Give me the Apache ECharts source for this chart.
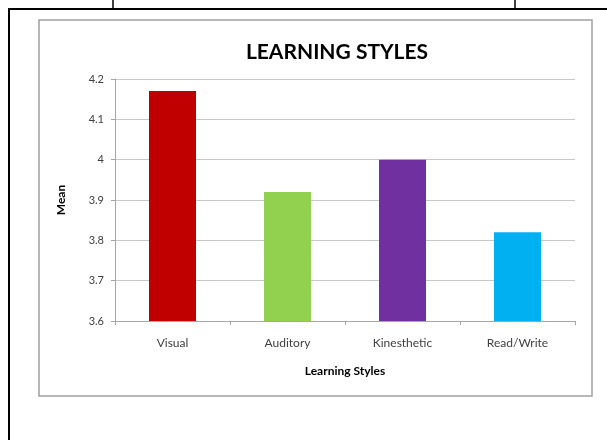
<!DOCTYPE html>
<html>
<head>
<meta charset="utf-8">
<script src="https://cdn.jsdelivr.net/npm/echarts@6/dist/echarts.min.js"></script>
<style>
html,body{margin:0;padding:0;background:#fff;}
#c{width:607px;height:440px;}
</style>
</head>
<body>
<div id="c"></div>
<script>
const categories = ['Visual', 'Auditory', 'Kinesthetic', 'Read/Write'];
const meanValues = [4.17, 3.92, 4.0, 3.82];
const barColors = ['#C00000', '#92D050', '#7030A0', '#00B0F0'];
const yTickLabels = ['3.6', '3.7', '3.8', '3.9', '4', '4.1', '4.2'];

const FONT = 'Lato, "Open Sans", sans-serif';
const chart = echarts.init(document.getElementById('c'), null, {renderer: 'canvas'});
chart.setOption({
  animation: false,
  backgroundColor: '#fff',
  title: {
    text: 'LEARNING STYLES',
    left: 332, top: 37, textAlign: 'center',
    textStyle: {fontFamily: FONT, fontWeight: 'bold', fontSize: 21, color: '#000'}
  },
  grid: {left: 115, top: 79, width: 460, height: 242, containLabel: false},
  xAxis: {
    type: 'category',
    data: categories,
    name: 'Learning Styles',
    nameLocation: 'middle',
    nameGap: 44,
    nameTextStyle: {fontFamily: FONT, fontWeight: 'bold', fontSize: 12, color: '#000'},
    axisLine: {lineStyle: {color: '#a6a6a6', width: 1}},
    axisTick: {show: true, alignWithLabel: false, length: 4, lineStyle: {color: '#a6a6a6'}},
    axisLabel: {fontFamily: FONT, fontSize: 12, color: '#404040', margin: 16}
  },
  yAxis: {
    type: 'value',
    min: 3.6, max: 4.2, interval: 0.1,
    name: 'Mean',
    nameLocation: 'middle',
    nameGap: 48,
    nameRotate: 90,
    nameTextStyle: {fontFamily: FONT, fontWeight: 'bold', fontSize: 12, color: '#000'},
    axisLine: {show: true, lineStyle: {color: '#a6a6a6', width: 1}},
    axisTick: {show: true, length: 4, inside: false, lineStyle: {color: '#a6a6a6'}},
    splitLine: {show: true, lineStyle: {color: '#c8c8c8', width: 1}},
    axisLabel: {
      fontFamily: FONT, fontSize: 11, color: '#404040', margin: 11,
      formatter: function (v) {
        const i = Math.round((v - 3.6) / 0.1);
        return yTickLabels[i] !== undefined ? yTickLabels[i] : '';
      }
    }
  },
  series: [{
    type: 'bar',
    data: meanValues.map((v, i) => ({value: v, itemStyle: {color: barColors[i]}})),
    barWidth: 47
  }],
  graphic: [
    {type: 'rect', shape: {x: 39, y: 20, width: 553, height: 376}, style: {fill: 'none', stroke: '#a0a0a0', lineWidth: 1.5}, silent: true, z: -1},
    {type: 'line', shape: {x1: 8, y1: 9, x2: 607, y2: 9}, style: {stroke: '#000', lineWidth: 2}, silent: true},
    {type: 'line', shape: {x1: 9, y1: 8, x2: 9, y2: 440}, style: {stroke: '#000', lineWidth: 2}, silent: true},
    {type: 'line', shape: {x1: 113, y1: 0, x2: 113, y2: 9}, style: {stroke: '#000', lineWidth: 1.5}, silent: true},
    {type: 'line', shape: {x1: 515, y1: 0, x2: 515, y2: 9}, style: {stroke: '#000', lineWidth: 1.5}, silent: true}
  ]
});
</script>
</body>
</html>
